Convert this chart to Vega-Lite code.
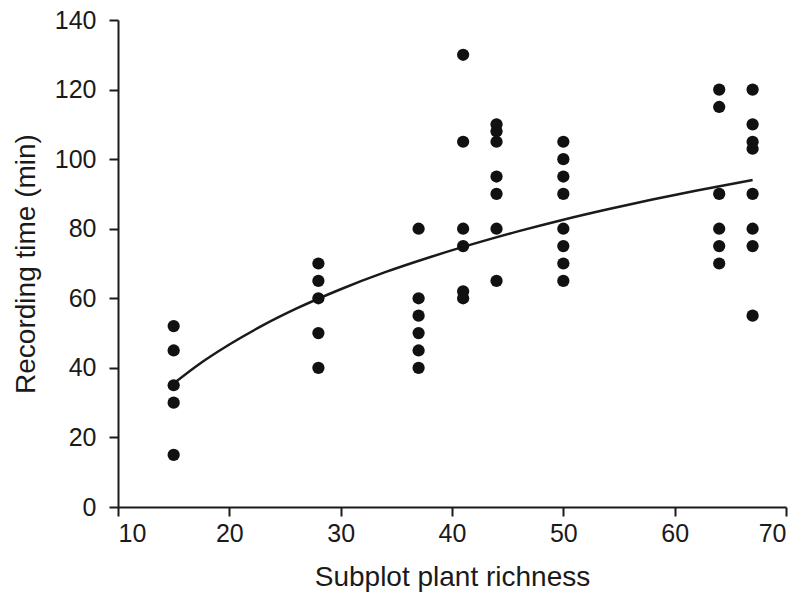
{
  "$schema": "https://vega.github.io/schema/vega-lite/v6.json",
  "width": 668,
  "height": 487,
  "autosize": {"type": "none"},
  "padding": {"left": 118, "top": 20, "right": 17, "bottom": 86},
  "background": "white",
  "config": {
    "view": {"stroke": null},
    "font": "Liberation Sans",
    "axis": {
      "grid": false,
      "domainColor": "#1a1a1a",
      "domainWidth": 2,
      "tickColor": "#1a1a1a",
      "tickWidth": 2,
      "tickSize": 9,
      "labelFont": "Liberation Sans",
      "labelFontSize": 25,
      "labelColor": "#1a1a1a",
      "titleFont": "Liberation Sans",
      "titleFontSize": 28,
      "titleFontWeight": "normal",
      "titleColor": "#1a1a1a"
    }
  },
  "datasets": {
    "points": [
      {"richness": 15, "time": 52}, {"richness": 15, "time": 45}, {"richness": 15, "time": 35}, {"richness": 15, "time": 30}, {"richness": 15, "time": 15},
      {"richness": 28, "time": 70}, {"richness": 28, "time": 65}, {"richness": 28, "time": 60}, {"richness": 28, "time": 50}, {"richness": 28, "time": 40},
      {"richness": 37, "time": 80}, {"richness": 37, "time": 60}, {"richness": 37, "time": 55}, {"richness": 37, "time": 50}, {"richness": 37, "time": 45}, {"richness": 37, "time": 40},
      {"richness": 41, "time": 130}, {"richness": 41, "time": 105}, {"richness": 41, "time": 80}, {"richness": 41, "time": 75}, {"richness": 41, "time": 62}, {"richness": 41, "time": 60},
      {"richness": 44, "time": 110}, {"richness": 44, "time": 108}, {"richness": 44, "time": 105}, {"richness": 44, "time": 95}, {"richness": 44, "time": 90}, {"richness": 44, "time": 80}, {"richness": 44, "time": 65},
      {"richness": 50, "time": 105}, {"richness": 50, "time": 100}, {"richness": 50, "time": 95}, {"richness": 50, "time": 90}, {"richness": 50, "time": 80}, {"richness": 50, "time": 75}, {"richness": 50, "time": 70}, {"richness": 50, "time": 65},
      {"richness": 64, "time": 120}, {"richness": 64, "time": 115}, {"richness": 64, "time": 90}, {"richness": 64, "time": 80}, {"richness": 64, "time": 75}, {"richness": 64, "time": 70},
      {"richness": 67, "time": 120}, {"richness": 67, "time": 110}, {"richness": 67, "time": 105}, {"richness": 67, "time": 103}, {"richness": 67, "time": 90}, {"richness": 67, "time": 80}, {"richness": 67, "time": 75}, {"richness": 67, "time": 55}
    ],
    "fit": [
      {"richness": 15, "time": 35.5}, {"richness": 17, "time": 40.4}, {"richness": 20, "time": 46.7}, {"richness": 23, "time": 52.2},
      {"richness": 26, "time": 57.0}, {"richness": 30, "time": 62.6}, {"richness": 34, "time": 67.5}, {"richness": 38, "time": 71.8},
      {"richness": 42, "time": 75.7}, {"richness": 46, "time": 79.3}, {"richness": 50, "time": 82.6}, {"richness": 54, "time": 85.6},
      {"richness": 58, "time": 88.4}, {"richness": 62, "time": 91.0}, {"richness": 67, "time": 94.0}
    ]
  },
  "layer": [
    {
      "data": {"name": "fit"},
      "mark": {"type": "line", "color": "#1a1a1a", "strokeWidth": 2.5, "interpolate": "monotone"},
      "encoding": {
        "x": {"field": "richness", "type": "quantitative", "scale": {"domain": [10, 70], "nice": false, "zero": false},
          "axis": {"values": [10, 20, 30, 40, 50, 60, 70], "title": "Subplot plant richness", "labelPadding": 5, "titlePadding": 17}},
        "y": {"field": "time", "type": "quantitative", "scale": {"domain": [0, 140], "nice": false},
          "axis": {"values": [0, 20, 40, 60, 80, 100, 120, 140], "title": "Recording time (min)", "labelPadding": 13, "titlePadding": 14}}
      }
    },
    {
      "data": {"name": "points"},
      "mark": {"type": "circle", "color": "#111111", "opacity": 1, "size": 150},
      "encoding": {
        "x": {"field": "richness", "type": "quantitative"},
        "y": {"field": "time", "type": "quantitative"}
      }
    }
  ]
}
